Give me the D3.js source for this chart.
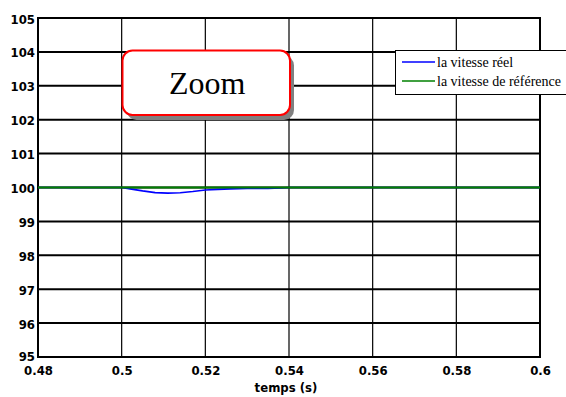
<!DOCTYPE html>
<html><head><meta charset="utf-8">
<script src="https://cdn.jsdelivr.net/npm/d3@7"></script>
<style>html,body{margin:0;padding:0;background:#fff;overflow:hidden}
.tk{font-family:'DejaVu Sans',sans-serif;font-weight:700;font-stretch:condensed;}</style>
</head><body>
<svg id="c" width="566" height="397"></svg>
<script>
const xTicks = [0.48, 0.5, 0.52, 0.54, 0.56, 0.58, 0.6];
const yTicks = [95, 96, 97, 98, 99, 100, 101, 102, 103, 104, 105];
const timeReal = [0.48, 0.49, 0.5, 0.502, 0.505, 0.508, 0.511, 0.514, 0.517, 0.52, 0.523, 0.526, 0.53, 0.535, 0.538, 0.54, 0.56, 0.58, 0.6];
const speedReal = [100, 100, 100, 99.96, 99.9, 99.85, 99.835, 99.845, 99.88, 99.925, 99.945, 99.96, 99.97, 99.975, 99.985, 100, 100, 100, 100];
const timeRef = [0.48, 0.6];
const speedRef = [100, 100];
const legendLabels = ["la vitesse réel", "la vitesse de référence"];
const seriesColors = ["#0000ff", "#008000"];
const xTitle = "temps (s)";
const zoomLabel = "Zoom";

const svg = d3.select("#c");
const L = 38, R = 540, T = 18, B = 357;
const x = d3.scaleLinear().domain([0.48, 0.6]).range([L, R]);
const y = d3.scaleLinear().domain([95, 105]).range([B, T]);

// grid
svg.append("g").selectAll("line").data(xTicks).join("line")
  .attr("x1", d => x(d)).attr("x2", d => x(d)).attr("y1", T).attr("y2", B)
  .attr("stroke", "#000").attr("stroke-width", 1.2);
svg.append("g").selectAll("line").data(yTicks).join("line")
  .attr("x1", L).attr("x2", R).attr("y1", d => y(d)).attr("y2", d => y(d))
  .attr("stroke", "#000").attr("stroke-width", 2);

// frame
svg.append("rect").attr("x", L).attr("y", T).attr("width", R - L).attr("height", B - T)
  .attr("fill", "none").attr("stroke", "#000").attr("stroke-width", 2);

// axes labels
const xAxis = d3.axisBottom(x).tickValues(xTicks).tickFormat(d => String(+d.toFixed(2))).tickSize(0);
const gx = svg.append("g").attr("transform", `translate(0,${B})`).call(xAxis);
gx.select(".domain").remove();
gx.selectAll("text").attr("class", "tk").attr("font-size", 13).attr("fill", "#000")
  .attr("y", 18).attr("dy", 0);

const yAxis = d3.axisLeft(y).tickValues(yTicks).tickFormat(d3.format("d")).tickSize(0).tickPadding(3);
const gy = svg.append("g").attr("transform", `translate(${L},0)`).call(yAxis);
gy.select(".domain").remove();
gy.selectAll("text").attr("class", "tk").attr("font-size", 13).attr("fill", "#000")
  .attr("dy", 0).attr("y", 5);
gy.selectAll(".tick").filter(d => d === 95).select("text").attr("y", 3);

svg.append("text").attr("class", "tk").attr("x", 286).attr("y", 392).attr("text-anchor", "middle")
  .attr("font-size", 13).text(xTitle);

// series
const line = d3.line().x(d => x(d[0])).y(d => y(d[1]));
svg.append("path").datum(d3.zip(timeReal, speedReal)).attr("d", line)
  .attr("fill", "none").attr("stroke", seriesColors[0]).attr("stroke-width", 1.6);
svg.append("path").datum(d3.zip(timeRef, speedRef)).attr("d", line)
  .attr("fill", "none").attr("stroke", seriesColors[1]).attr("stroke-width", 2);

// zoom callout
const zx = 122.5, zy = 50.5, zw = 167.5, zh = 64.5;
svg.append("rect").attr("x", zx + 4).attr("y", zy + 5).attr("width", zw).attr("height", zh)
  .attr("rx", 10).attr("fill", "#808080");
svg.append("rect").attr("x", zx).attr("y", zy).attr("width", zw).attr("height", zh)
  .attr("rx", 10).attr("fill", "#fff").attr("stroke", "#ff0000").attr("stroke-width", 2);
svg.append("text").attr("x", zx + zw / 2 + 1).attr("y", 94).attr("text-anchor", "middle")
  .attr("font-family", "'Liberation Serif','Times New Roman',serif").attr("font-size", 32).text(zoomLabel);

// legend
const lg = svg.append("g");
lg.append("rect").attr("x", 395.5).attr("y", 50.5).attr("width", 180).attr("height", 44)
  .attr("fill", "#fff").attr("stroke", "#000").attr("stroke-width", 1);
legendLabels.forEach((lab, i) => {
  const yy = 62 + i * 19;
  lg.append("line").attr("x1", 402).attr("x2", 435).attr("y1", yy).attr("y2", yy)
    .attr("stroke", seriesColors[i]).attr("stroke-width", 1.6);
  lg.append("text").attr("x", 437).attr("y", yy + 4.5).attr("font-family", "'Liberation Serif','Times New Roman',serif")
    .attr("font-size", 14).text(lab);
});
</script>
</body></html>
